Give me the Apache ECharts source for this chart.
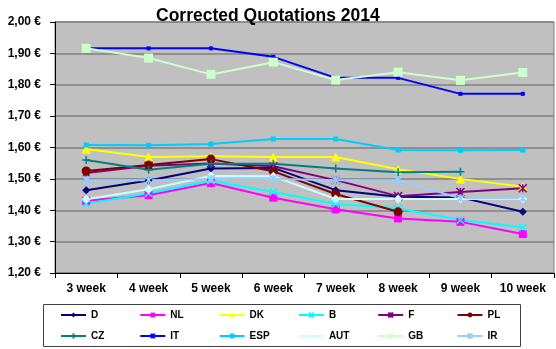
<!DOCTYPE html>
<html>
<head>
<meta charset="utf-8">
<script src="https://cdn.jsdelivr.net/npm/echarts@6/dist/echarts.min.js"></script>
<style>html,body{margin:0;padding:0;background:#fff}#c{width:556px;height:349px}</style>
</head>
<body>
<div id="c"></div>
<script>
var categories = ['3 week','4 week','5 week','6 week','7 week','8 week','9 week','10 week'];
var yTicks = [1.2, 2.0, 0.1];
var D   = [1.464, 1.495, 1.533, 1.535, 1.464, 1.443, 1.441, 1.395];
var NL  = [1.430, 1.448, 1.487, 1.440, 1.403, 1.374, 1.363, 1.324];
var DK  = [1.595, 1.570, 1.572, 1.570, 1.570, 1.531, 1.500, 1.475];
var B   = [1.421, 1.454, 1.494, 1.458, 1.420, 1.406, 1.369, 1.346];
var F   = [1.519, 1.542, 1.549, 1.540, 1.496, 1.445, 1.458, 1.470];
var PL  = [1.525, 1.544, 1.563, 1.524, 1.452, 1.395, null, null];
var CZ  = [1.560, 1.529, 1.548, 1.548, 1.533, 1.521, 1.523, null];
var IT  = [1.916, 1.916, 1.916, 1.889, 1.822, 1.822, 1.771, 1.771];
var ESP = [1.608, 1.607, 1.611, 1.627, 1.627, 1.592, 1.591, 1.592];
var AUT = [1.435, 1.467, 1.509, 1.508, 1.436, 1.436, 1.436, 1.436];
var GB  = [1.916, 1.885, 1.833, 1.872, 1.815, 1.840, 1.814, 1.839];
var IR  = [1.496, 1.496, 1.500, 1.500, 1.496, 1.496, 1.438, 1.438];
var legendNames = ['D','NL','DK','B','F','PL','CZ','IT','ESP','AUT','GB','IR'];

var FONT = '"Liberation Sans", Arial, sans-serif';
var X_SYM = 'path://M0,0L10,10M10,0L0,10';
var PLUS_SYM = 'path://M5,0L5,10M0,5L10,5';
var STAR_SYM = 'path://M0,0L10,10M10,0L0,10M5,0L5,10';

function mk(name, data, color, symbol, size, stroke) {
  return {
    name: name, type: 'line', data: data,
    symbol: symbol, symbolSize: size, showAllSymbol: true,
    lineStyle: { color: color, width: 2 },
    itemStyle: { color: color, borderColor: color, borderWidth: stroke ? 1.5 : 0 },
    emphasis: { disabled: true },
    animation: false
  };
}

var series = [
  mk('D', D, '#000080', 'diamond', 8),
  mk('NL', NL, '#FF00FF', 'rect', 8),
  mk('DK', DK, '#FFFF00', 'triangle', 9),
  mk('B', B, '#00FFFF', X_SYM, 7, true),
  mk('F', F, '#800080', STAR_SYM, 8, true),
  mk('PL', PL, '#800000', 'circle', 9),
  mk('CZ', CZ, '#008080', PLUS_SYM, 8, true),
  mk('IT', IT, '#0000FF', 'rect', 4),
  mk('ESP', ESP, '#00CCFF', 'rect', 5),
  mk('AUT', AUT, '#CCFFFF', 'diamond', 9),
  mk('GB', GB, '#CCFFCC', 'rect', 9),
  mk('IR', IR, '#99CCFF', STAR_SYM, 8, true)
];

var legends = legendNames.map(function (n, i) {
  var col = i % 6, row = Math.floor(i / 6);
  return {
    data: [n], left: 60 + col * 79.3, top: row === 0 ? 310 : 331,
    padding: 0, itemWidth: 25, itemHeight: 6, itemGap: 0,
    textStyle: { fontFamily: FONT, fontSize: 10, fontWeight: 'bold', color: '#000' },
    selectedMode: false
  };
});

var chart = echarts.init(document.getElementById('c'), null, { renderer: 'canvas' });
chart.setOption({
  backgroundColor: '#fff',
  animation: false,
  title: {
    text: 'Corrected Quotations 2014', left: 151, top: 2,
    textStyle: { fontFamily: FONT, fontSize: 17.5, fontWeight: 'bold', color: '#000' }
  },
  grid: { left: 55, top: 22, right: 2, bottom: 76, show: true, backgroundColor: '#C0C0C0', borderColor: '#808080', borderWidth: 1 },
  legend: legends,
  graphic: [{
    type: 'rect', shape: { x: 43.5, y: 304.5, width: 477, height: 42 },
    style: { fill: 'none', stroke: '#404040', lineWidth: 1 }, z: -1
  }],
  xAxis: {
    type: 'category', data: categories, boundaryGap: true,
    axisLine: { lineStyle: { color: '#000', width: 1 } },
    axisTick: { show: true, length: 5, lineStyle: { color: '#000' } },
    axisLabel: { fontFamily: FONT, fontSize: 12, fontWeight: 'bold', color: '#000', margin: 10 }
  },
  yAxis: {
    type: 'value', min: yTicks[0], max: yTicks[1], interval: yTicks[2],
    axisLine: { show: true, lineStyle: { color: '#000', width: 1 } },
    axisTick: { show: true, length: 5, lineStyle: { color: '#000' } },
    splitLine: { lineStyle: { color: '#808080', width: 1.5 } },
    axisLabel: {
      fontFamily: FONT, fontSize: 12, fontWeight: 'bold', color: '#000', margin: 14,
      formatter: function (v) { return v.toFixed(2).replace('.', ',') + ' €'; }
    }
  },
  series: series
});
</script>
</body>
</html>
